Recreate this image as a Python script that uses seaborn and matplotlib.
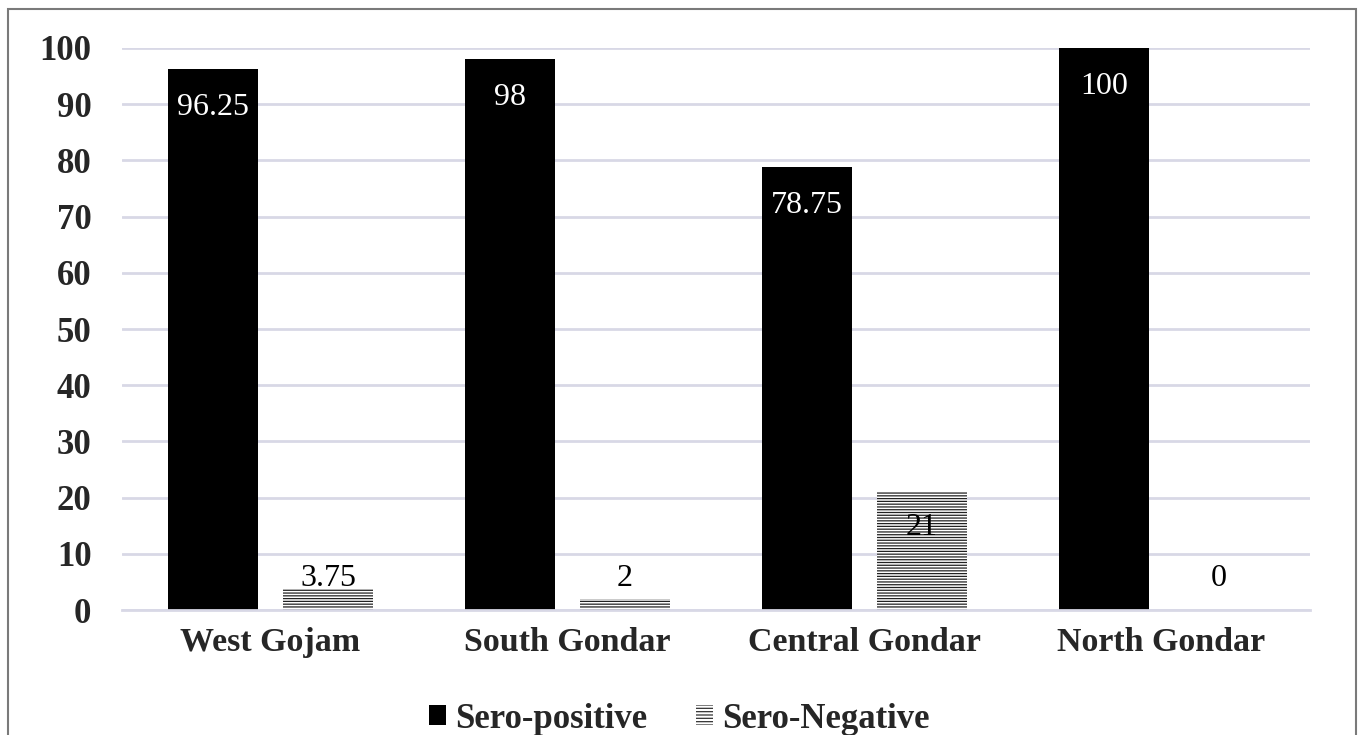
import matplotlib
matplotlib.use("Agg")
import matplotlib.pyplot as plt
import seaborn as sns
import pandas as pd
from matplotlib.patches import Rectangle

zones = ["West Gojam", "South Gondar", "Central Gondar", "North Gondar"]
sero_positive = [96.25, 98, 78.75, 100]
sero_negative = [3.75, 2, 21, 0]
pos_labels = ["96.25", "98", "78.75", "100"]
neg_labels = ["3.75", "2", "21", "0"]
series = ["Sero-positive", "Sero-Negative"]
yticks = [0, 10, 20, 30, 40, 50, 60, 70, 80, 90, 100]

df = pd.DataFrame({
    "zone": zones * 2,
    "value": sero_positive + sero_negative,
    "series": [series[0]] * 4 + [series[1]] * 4,
})

sns.set_theme(style="white")
plt.rcParams["font.family"] = ["Liberation Serif", "DejaVu Serif"]
plt.rcParams["hatch.linewidth"] = 0.9

fig = plt.figure(figsize=(13.58, 7.35), dpi=100)
ax = fig.add_axes([0.0898, 0.170, 0.8749, 0.7647])

sns.barplot(data=df, x="zone", y="value", hue="series", order=zones,
            hue_order=series, palette=["black", "white"], width=0.774, gap=0.21,
            saturation=1, ax=ax, legend=True, edgecolor="none", linewidth=0)

HATCH = "------"
neg_container = ax.containers[1]
for p in neg_container.patches:
    p.set_facecolor("white")
    p.set_edgecolor("#222222")
    p.set_hatch(HATCH)
    p.set_linewidth(0)

ax.set_ylim(0, 100)
ax.set_xlim(-0.5, 3.5)
ax.set_yticks(yticks)
ax.set_yticklabels([str(t) for t in yticks], fontsize=25, fontweight="bold")
ax.set_xticklabels(zones, fontsize=24.5, fontweight="bold")
ax.tick_params(axis="y", length=0, pad=22)
ax.tick_params(axis="x", length=0, pad=12)
ax.set_xlabel("")
ax.set_ylabel("")
ax.grid(axis="y", color="#d8d8e6", linewidth=2)
ax.set_axisbelow(True)
for s in ["top", "right", "left"]:
    ax.spines[s].set_visible(False)
ax.spines["bottom"].set_color("#d8d8e6")
ax.spines["bottom"].set_linewidth(2)

# data labels
pos_container = ax.containers[0]
for p, lab in zip(pos_container.patches, pos_labels):
    x = p.get_x() + p.get_width() / 2
    ax.text(x, p.get_height() - 6.8, lab, ha="center", va="center",
            color="white", fontsize=23)
for p, lab, v in zip(neg_container.patches, neg_labels, sero_negative):
    x = p.get_x() + p.get_width() / 2
    if v > 10:
        ax.text(x, v - 6.4, lab, ha="center", va="center", color="black", fontsize=23)
    else:
        ax.text(x, 5.6, lab, ha="center", va="center", color="black", fontsize=23)

# legend
h, l = ax.get_legend_handles_labels()
leg = ax.legend(h, l, loc="center", bbox_to_anchor=(0.5, 0.0215), bbox_transform=fig.transFigure,
                ncol=2, frameon=False,
                prop={"family": "Liberation Serif", "weight": "bold", "size": 25},
                handlelength=0.5, handleheight=0.5, handletextpad=0.25, columnspacing=1.4)
lh = leg.legend_handles
lh[0].set_facecolor("black")
lh[1].set_facecolor("white")
lh[1].set_edgecolor("#333333")
lh[1].set_hatch("-----")
lh[1].set_linewidth(0)

# outer border
fig.patches.append(Rectangle((8 / 1358, -0.01), 1348 / 1358, 1 - 9 / 735 + 0.01,
                             transform=fig.transFigure, fill=False,
                             edgecolor="#7a7a7a", linewidth=1.5))

fig.savefig("out.png", dpi=100, facecolor="white")
